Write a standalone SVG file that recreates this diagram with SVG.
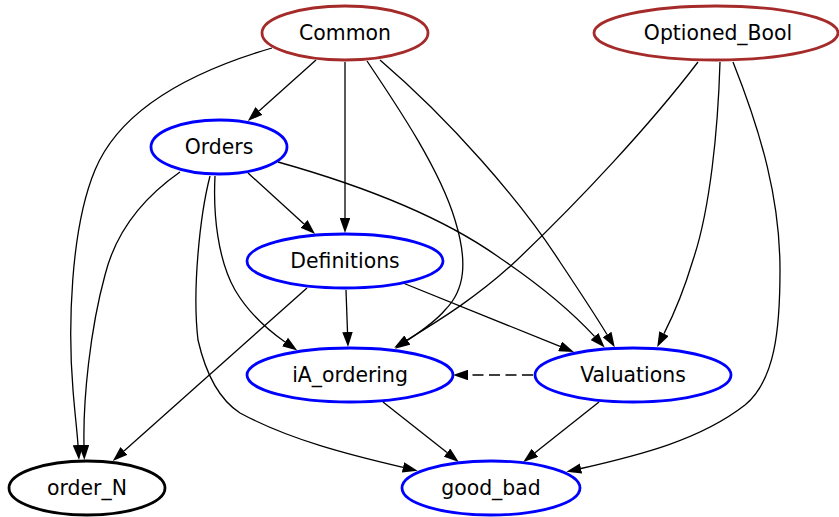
<svg xmlns="http://www.w3.org/2000/svg" width="839" height="517" viewBox="0 0 839 517">
<style>
.n ellipse{fill:#fff;stroke-width:2.8}
.lib ellipse{stroke:#a52a2a}
.mod ellipse{stroke:#0000ff}
.leaf ellipse{stroke:#000}
.n text{font-family:"DejaVu Sans",sans-serif;font-size:20.4px;fill:#000;text-anchor:middle}
.e path{fill:none;stroke:#000;stroke-width:1.3}
</style>
<defs>
<marker id="ah" viewBox="0 0 15 10.5" refX="0" refY="5.25" markerWidth="15" markerHeight="10.5" markerUnits="userSpaceOnUse" orient="auto">
<path d="M0,0 L15,5.25 L0,10.5 z" fill="#000"/>
</marker>
</defs>
<rect width="839" height="517" fill="#fff"/>
<g id="connectors" class="e" marker-end="url(#ah)">
<path d="M316,60 L259,111" marker-end="url(#ah)"/>
<path d="M345,62 L345,218" marker-end="url(#ah)"/>
<path d="M367,61 C400,110 440,170 455,220 C468,262 465,290 445,310 C435,322 420,332 407.5,340.4" marker-end="url(#ah)"/>
<path d="M380,60 C450,120 520,200 560,262 C580,292 597,318 607,334.5" marker-end="url(#ah)"/>
<path d="M272,48 C190,72 120,110 95,170 C70,230 68,330 73,390 C75,415 77,430 78,445" marker-end="url(#ah)"/>
<path d="M248,173 L304,224" marker-end="url(#ah)"/>
<path d="M278,162 C360,185 440,215 500,258 C540,285 570,310 594.5,336.4" marker-end="url(#ah)"/>
<path d="M215,176 C213,215 218,260 235,290 C248,312 265,328 285,342" marker-end="url(#ah)"/>
<path d="M180,172 C140,200 115,235 105,275 C90,330 83,400 84,445" marker-end="url(#ah)"/>
<path d="M210,176 C200,215 192,290 198,340 C206,375 220,400 240,413 C290,440 350,455 403,467.4" marker-end="url(#ah)"/>
<path d="M346,290 L347.5,332" marker-end="url(#ah)"/>
<path d="M403,283 L560,346.4" marker-end="url(#ah)"/>
<path d="M307,288 L124,451" marker-end="url(#ah)"/>
<path d="M698,62 C650,125 580,200 517,260 C480,295 440,320 407,340" marker-end="url(#ah)"/>
<path d="M720,62 C718,130 710,210 693,260 C684,290 675,312 664,333.6" marker-end="url(#ah)"/>
<path d="M733,62 C762,135 780,200 780,270 C780,330 775,380 745,405 C700,440 640,455 581,468.5" marker-end="url(#ah)"/>
<path d="M383,402 L447,452.6" marker-end="url(#ah)"/>
<path d="M599,402 L535,452.7" marker-end="url(#ah)"/>
<path d="M533,375 L468,375" stroke-dasharray="11,5.5" marker-end="url(#ah)"/>
</g>
<g id="Common" class="n lib"><ellipse cx="345" cy="33" rx="83" ry="27"/><text x="345" y="40">Common</text></g>
<g id="Optioned_Bool" class="n lib"><ellipse cx="716" cy="33" rx="122" ry="27"/><text x="718" y="40">Optioned_Bool</text></g>
<g id="Orders" class="n mod"><ellipse cx="219" cy="147" rx="68" ry="27"/><text x="219" y="154">Orders</text></g>
<g id="Definitions" class="n mod"><ellipse cx="345" cy="261" rx="98" ry="27"/><text x="345" y="268">Definitions</text></g>
<g id="iA_ordering" class="n mod"><ellipse cx="350" cy="375" rx="103" ry="27"/><text x="350" y="382">iA_ordering</text></g>
<g id="Valuations" class="n mod"><ellipse cx="633" cy="375" rx="98" ry="27"/><text x="633" y="382">Valuations</text></g>
<g id="order_N" class="n leaf"><ellipse cx="87" cy="488" rx="78" ry="27"/><text x="87" y="495">order_N</text></g>
<g id="good_bad" class="n mod"><ellipse cx="491" cy="488" rx="89" ry="27"/><text x="491" y="495">good_bad</text></g>
</svg>
